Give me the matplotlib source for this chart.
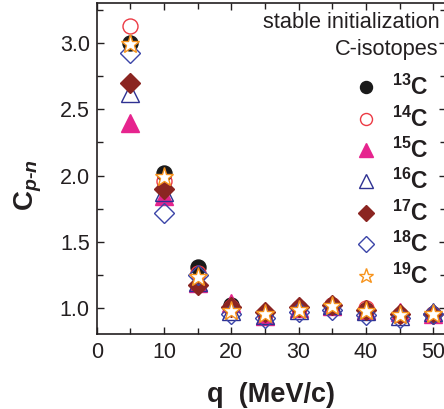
import numpy as np
import matplotlib
matplotlib.use("Agg")
import matplotlib.pyplot as plt
from matplotlib.ticker import MultipleLocator

plt.rcParams['font.family'] = ['Liberation Sans', 'DejaVu Sans']
plt.rcParams['mathtext.fontset'] = 'custom'
plt.rcParams['mathtext.rm'] = 'Liberation Sans:bold'
plt.rcParams['mathtext.bf'] = 'Liberation Sans:bold'
plt.rcParams['mathtext.it'] = 'Liberation Sans:italic:bold'

# momentum transfer q (MeV/c)
q = [5, 10, 15, 20, 25, 30, 35, 40, 45, 50]

# C_{p-n} for each carbon isotope
c13 = [3.00, 2.02, 1.31, 1.03, 0.96, 1.00, 1.03, 0.99, 0.95, 0.96]
c14 = [3.13, 1.96, 1.27, 1.01, 0.96, 1.00, 1.03, 1.00, 0.95, 0.96]
c15 = [2.40, 1.85, 1.19, 1.04, 0.94, 1.00, 1.02, 0.99, 0.97, 0.96]
c16 = [2.62, 1.88, 1.20, 0.98, 0.95, 0.99, 1.03, 0.98, 0.94, 0.97]
c17 = [2.70, 1.90, 1.18, 1.01, 0.97, 1.01, 1.03, 0.99, 0.96, 0.96]
c18 = [2.92, 1.72, 1.25, 0.96, 0.93, 0.97, 0.99, 0.95, 0.93, 0.96]
c19 = [2.99, 1.99, 1.24, 0.98, 0.96, 0.99, 1.02, 0.98, 0.95, 0.96]

labels = [r'$^{\mathbf{13}}\mathbf{C}$', r'$^{\mathbf{14}}\mathbf{C}$',
          r'$^{\mathbf{15}}\mathbf{C}$', r'$^{\mathbf{16}}\mathbf{C}$',
          r'$^{\mathbf{17}}\mathbf{C}$', r'$^{\mathbf{18}}\mathbf{C}$',
          r'$^{\mathbf{19}}\mathbf{C}$']

W, H = 444, 409
fig = plt.figure(figsize=(W / 100, H / 100), dpi=100)
ax = fig.add_axes([96.7 / W, 1 - 334 / H, (446 - 96.7) / W, 331 / H])

txt = '#231f20'
styles = [
    dict(marker='o', ms=10.8, mfc='#1a1a1a', mec='#1a1a1a'),
    dict(marker='o', ms=10.8, mfc='none', mec='#ec3a44', mew=1.0),
    dict(marker='^', ms=12.5, mfc='#e6248e', mec='#e6248e'),
    dict(marker='^', ms=12.5, mfc='none', mec='#2e3192', mew=1.0),
    dict(marker='D', ms=9.8, mfc='#8b2521', mec='#8b2521'),
    dict(marker='D', ms=9.8, mfc='none', mec='#3b45a8', mew=1.0),
    dict(marker='*', ms=14, mfc='white', mec='#f7941d', mew=1.0),
]
series = [c13, c14, c15, c16, c17, c18, c19]

handles = []
for ys, st, lab in zip(series, styles, labels):
    h, = ax.plot(q, ys, ls='none', label=lab, clip_on=False, **st)
    handles.append(h)

ax.set_xlim(0, 51.9)
ax.set_ylim(0.808, 3.30)
ax.xaxis.set_major_locator(MultipleLocator(10))
ax.xaxis.set_minor_locator(MultipleLocator(5))
ax.yaxis.set_major_locator(MultipleLocator(0.5))
ax.yaxis.set_minor_locator(MultipleLocator(0.25))
ax.yaxis.set_major_formatter(matplotlib.ticker.FormatStrFormatter('%.1f'))

ax.tick_params(which='both', direction='in', top=True, right=True,
               width=1.0, color=txt, labelsize=15.5, labelcolor=txt)
ax.tick_params(which='major', length=5)
ax.tick_params(which='minor', length=4.5)
ax.tick_params(axis='x', pad=6)
ax.tick_params(axis='y', pad=5)
for s in ax.spines.values():
    s.set_linewidth(1.2)
    s.set_color(txt)

ax.set_xlabel('q  (MeV/c)', fontsize=19.5, fontweight='bold', color=txt)
ax.xaxis.set_label_coords(0.5, -0.145)
ax.set_ylabel(r'$\mathbf{C}_{\mathit{p}\text{-}\mathit{n}}$', fontsize=20, color=txt)
ax.yaxis.set_label_coords(-0.15, 0.45)

leg = ax.legend(handles=handles, loc='upper left', frameon=False,
                bbox_to_anchor=(355 / W, 1 - 75 / H), bbox_transform=fig.transFigure,
                fontsize=16.5, handlelength=1.0, handletextpad=0.6,
                labelspacing=0.27, borderpad=0, borderaxespad=0,
                markerscale=0.8, numpoints=1)
for t in leg.get_texts():
    t.set_color(txt)

fig.text(440 / W, 1 - 23 / H, 'stable initialization', ha='right', va='center',
         fontsize=15.7, color=txt)
fig.text(438 / W, 1 - 50 / H, 'C-isotopes', ha='right', va='center',
         fontsize=15.7, color=txt)

fig.savefig('out.png', dpi=100)
